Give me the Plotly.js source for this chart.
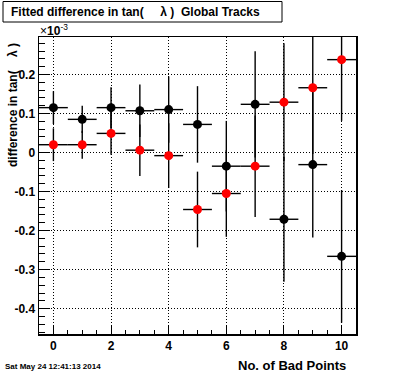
<!DOCTYPE html>
<html><head><meta charset="utf-8">
<script src="https://cdn.plot.ly/plotly-3.0.1.min.js"></script>
<style>html,body{margin:0;padding:0;background:#fff}#chart{width:396px;height:372px}</style>
</head><body><div id="chart"></div>
<script>
// Data (y values in units of 1e-3)
const badPoints = [0, 1, 2, 3, 4, 5, 6, 7, 8, 9, 10];
const binHalfWidth = [0.5, 0.5, 0.5, 0.5, 0.5, 0.5, 0.5, 0.5, 0.5, 0.5, 0.5];
const blackValues = [0.115, 0.085, 0.115, 0.107, 0.110, 0.072, -0.035, 0.1235, -0.171, -0.031, -0.266];
const blackErrors = [0.042, 0.035, 0.052, 0.067, 0.085, 0.098, 0.116, 0.136, 0.160, 0.187, 0.170];
const redValues = [0.020, 0.020, 0.049, 0.006, -0.008, -0.146, -0.105, -0.035, 0.129, 0.166, 0.238];
const redErrors = [0.042, 0.036, 0.055, 0.066, 0.083, 0.097, 0.111, 0.130, 0.151, 0.170, 0.157];
const xTickValues = [0, 2, 4, 6, 8, 10];
const xTickLabels = ["0", "2", "4", "6", "8", "10"];
const yTickValues = [-0.4, -0.3, -0.2, -0.1, 0, 0.1, 0.2];
const yTickLabels = ["-0.4", "-0.3", "-0.2", "-0.1", "0", "0.1", "0.2"];
const titleText = "Fitted difference in tan(\u00a0\u00a0\u00a0\u00a0\u00a0λ )\u00a0\u00a0Global Tracks";
const yTitleText = "difference in tan(\u00a0\u00a0\u00a0\u00a0λ )";
const xTitleText = "No. of Bad Points";
const stampText = "Sat May 24 12:41:13 2014";

// Geometry helpers
const W = 396, H = 372, L = 39, R = 40, T = 37, B = 38;
const PW = W - L - R, PH = H - T - B;
const px = v => (v - L) / PW;
const py = v => (H - B - v) / PH;
const FONT = "Liberation Sans, Arial, Helvetica, sans-serif";

function series(vals, errs, color) {
  return {
    x: badPoints, y: vals, type: 'scatter', mode: 'markers',
    marker: {color: color, size: 9},
    error_x: {type: 'data', array: binHalfWidth, width: 0, thickness: 1.4, color: 'black'},
    error_y: {type: 'data', array: errs, width: 0, thickness: 1.4, color: 'black'},
    showlegend: false, hoverinfo: 'skip'
  };
}

const data = [
  series(blackValues, blackErrors, 'black'),
  series(redValues, redErrors, '#ff0000')
];

const axisCommon = {
  showline: true, linecolor: 'black', linewidth: 1.5, mirror: true,
  ticks: 'inside', tickcolor: 'black', tickwidth: 1,
  showgrid: true, gridcolor: 'black', gridwidth: 1, griddash: '1px,2px',
  zeroline: false, tickmode: 'array',
  tickfont: {family: FONT, size: 12, color: 'black', weight: 'bold'}
};

const layout = {
  width: W, height: H,
  margin: {l: L, r: R, t: T, b: B, pad: 0},
  paper_bgcolor: 'white', plot_bgcolor: 'white',
  xaxis: Object.assign({}, axisCommon, {
    range: [-0.5, 10.5], tickvals: xTickValues, ticktext: xTickLabels, ticklen: 9,
    minor: {tickmode: 'linear', tick0: 0, dtick: 0.5, ticks: 'inside', ticklen: 4, tickcolor: 'black', tickwidth: 1, showgrid: false}
  }),
  yaxis: Object.assign({}, axisCommon, {
    range: [-0.465, 0.296], tickvals: yTickValues, ticktext: yTickLabels, ticklen: 11,
    minor: {tickmode: 'linear', tick0: 0, dtick: 0.02, ticks: 'inside', ticklen: 6, tickcolor: 'black', tickwidth: 1, showgrid: false}
  }),
  shapes: [{
    type: 'rect', xref: 'paper', yref: 'paper',
    x0: px(3), x1: px(282), y0: py(22), y1: py(1.5),
    line: {color: 'black', width: 1}, fillcolor: 'white', layer: 'above'
  }],
  annotations: [
    {text: titleText, xref: 'paper', yref: 'paper', x: px(9), y: py(12), xanchor: 'left', yanchor: 'middle',
     showarrow: false, font: {family: FONT, size: 12, color: 'black', weight: 'bold'}},
    {text: yTitleText, xref: 'paper', yref: 'paper', x: px(13), y: py(105), xanchor: 'center', yanchor: 'middle',
     textangle: -90, showarrow: false, font: {family: FONT, size: 12, color: 'black', weight: 'bold'}},
    {text: xTitleText, xref: 'paper', yref: 'paper', x: px(348), y: py(365), xanchor: 'right', yanchor: 'middle',
     showarrow: false, font: {family: FONT, size: 13, color: 'black', weight: 'bold'}},
    {text: "×<b>10</b><sup>-3</sup>", xref: 'paper', yref: 'paper', x: px(38), y: py(30), xanchor: 'left', yanchor: 'middle',
     showarrow: false, font: {family: FONT, size: 12, color: 'black'}},
    {text: stampText, xref: 'paper', yref: 'paper', x: px(3), y: py(366), xanchor: 'left', yanchor: 'middle',
     showarrow: false, font: {family: FONT, size: 8, color: 'black', weight: 'bold'}}
  ]
};

Plotly.newPlot('chart', data, layout, {staticPlot: true, displayModeBar: false});
</script>
</body></html>
